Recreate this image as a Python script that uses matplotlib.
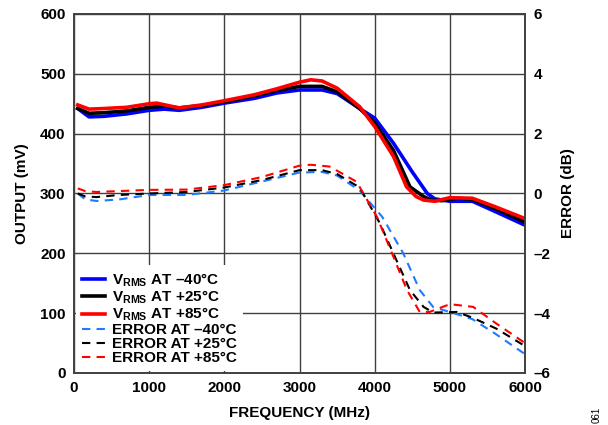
import matplotlib.pyplot as plt

plt.rcParams['font.family'] = ['Liberation Sans', 'DejaVu Sans']
plt.rcParams['font.weight'] = 'bold'
plt.rcParams['mathtext.fontset'] = 'custom'
plt.rcParams['mathtext.rm'] = 'Liberation Sans:bold'
plt.rcParams['mathtext.bf'] = 'Liberation Sans:bold'

# output voltage (mV)
f_v40 = [50, 200, 400, 700, 1000, 1200, 1400, 1700, 2000, 2400, 2700, 3000, 3300, 3500, 3800, 4000, 4250, 4500, 4700, 4800, 5000, 5300, 5600, 6000]
v_m40 = [442, 428, 429, 433, 439, 441, 439, 444, 451, 459, 468, 473, 473, 467, 442, 426, 384, 336, 300, 291, 287, 287, 270, 247]

f_v25 = [50, 200, 400, 700, 1000, 1200, 1400, 1700, 2000, 2400, 2700, 3000, 3300, 3500, 3800, 4000, 4250, 4470, 4650, 4750, 4900, 5100, 5300, 5600, 6000]
v_p25 = [442, 434, 435, 438, 444, 446, 443, 447, 453, 463, 472, 479, 479, 470, 442, 418, 372, 311, 295, 289, 288, 292, 290, 275, 252]

f_v85 = [50, 200, 400, 700, 1000, 1100, 1400, 1700, 2000, 2400, 2700, 3000, 3150, 3300, 3500, 3800, 4000, 4250, 4425, 4550, 4650, 4800, 5000, 5300, 5600, 6000]
v_p85 = [448, 441, 442, 444, 450, 451, 443, 448, 455, 465, 475, 486, 490, 488, 476, 445, 412, 362, 311, 295, 289, 287, 293, 292, 278, 258]

# error (dB)
f_e40 = [50, 150, 300, 600, 1000, 1500, 2000, 2500, 3000, 3300, 3500, 3800, 4100, 4380, 4600, 4780, 5000, 5300, 5600, 6000]
e_m40 = [0, -0.2, -0.25, -0.2, -0.05, -0.05, 0.1, 0.4, 0.7, 0.72, 0.6, 0.1, -0.78, -2.0, -3.23, -3.8, -3.96, -4.2, -4.68, -5.37]

f_e25 = [50, 150, 300, 600, 1000, 1500, 2000, 2500, 3000, 3300, 3500, 3800, 4070, 4290, 4470, 4650, 4780, 5090, 5300, 5620, 6000]
e_p25 = [0, -0.1, -0.12, -0.05, 0.0, 0.05, 0.2, 0.45, 0.78, 0.78, 0.65, 0.2, -1.0, -2.23, -3.23, -3.79, -3.98, -3.96, -4.15, -4.52, -5.1]

f_e85 = [50, 150, 300, 600, 1000, 1500, 2000, 2500, 3000, 3150, 3400, 3600, 3760, 4030, 4250, 4430, 4600, 4730, 5000, 5310, 5620, 6000]
e_p85 = [0.17, 0.08, 0.05, 0.08, 0.12, 0.13, 0.28, 0.55, 0.93, 0.96, 0.9, 0.62, 0.39, -0.78, -2.12, -3.23, -3.96, -3.96, -3.70, -3.79, -4.35, -5.0]

err_ticks = ['–6', '–4', '–2', '0', '2', '4', '6']

fig = plt.figure(figsize=(6.08, 4.25), dpi=100)
ax = fig.add_axes([0.1217, 0.1224, 0.7418, 0.8447])
ax2 = ax.twinx()

l1, = ax.plot(f_v40, v_m40, color='#0000ff', lw=2.6, label=r'$\mathregular{V_{RMS}}$ AT –40°C')
l2, = ax.plot(f_v25, v_p25, color='black', lw=2.6, label=r'$\mathregular{V_{RMS}}$ AT +25°C')
l3, = ax.plot(f_v85, v_p85, color='#ff0000', lw=2.6, label=r'$\mathregular{V_{RMS}}$ AT +85°C')

l4, = ax2.plot(f_e40, e_m40, color='#1e7bff', lw=1.5, ls=(0, (4, 3)), label='ERROR AT –40°C')
l5, = ax2.plot(f_e25, e_p25, color='black', lw=1.5, ls=(0, (4, 3)), label='ERROR AT +25°C')
l6, = ax2.plot(f_e85, e_p85, color='#ff0000', lw=1.5, ls=(0, (4, 3)), label='ERROR AT +85°C')

ax.set_xlim(0, 6000)
ax.set_ylim(0, 600)
ax2.set_ylim(-6, 6)
ax.set_xticks(range(0, 6001, 1000))
ax.set_yticks(range(0, 601, 100))
ax2.set_yticks(range(-6, 7, 2))
ax2.set_yticklabels(err_ticks)
ax.grid(True, color='#404040', lw=1.0)
ax.set_axisbelow(True)
for a in (ax, ax2):
    a.tick_params(length=0, labelsize=11, pad=6)
    for s in a.spines.values():
        s.set_color('#404040')
        s.set_linewidth(1.2)

ax.set_xlabel('FREQUENCY (MHz)', fontsize=11, fontweight='bold', labelpad=8)
ax.set_ylabel('OUTPUT (mV)', fontsize=11, fontweight='bold', labelpad=8)
ax2.set_ylabel('ERROR (dB)', fontsize=11, fontweight='bold', labelpad=8)

leg = ax2.legend(handles=[l1, l2, l3, l4, l5, l6], loc='lower left', fontsize=11,
                 frameon=True, fancybox=False, framealpha=1, edgecolor='none',
                 borderaxespad=0.1, handlelength=1.5, handletextpad=0.5,
                 labelspacing=0.0, borderpad=0.4)

fig.text(0.982, 0.005, '061', rotation=90, fontsize=7, fontweight='normal', ha='center', va='bottom')

fig.savefig('out.png', dpi=100)
